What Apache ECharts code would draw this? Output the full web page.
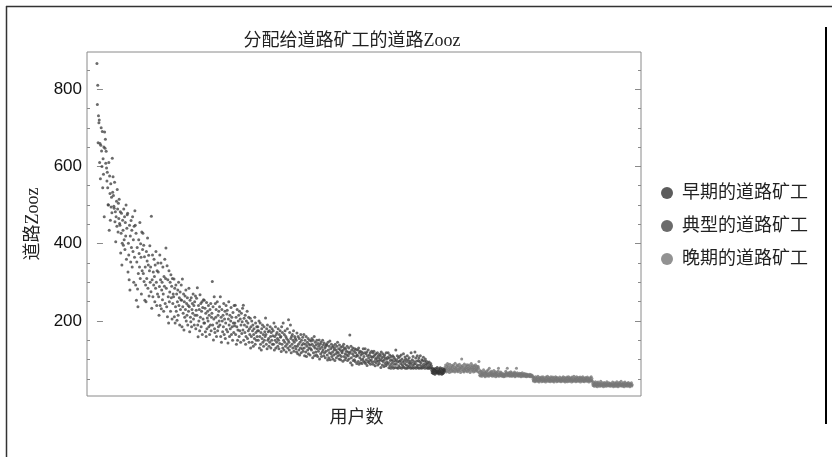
<!DOCTYPE html>
<html>
<head>
<meta charset="utf-8">
<script src="https://cdn.jsdelivr.net/npm/echarts@6/dist/echarts.min.js"></script>
<style>
html,body{margin:0;padding:0;background:#fff;}
#chart{width:832px;height:457px;}
</style>
</head>
<body>
<div id="chart"></div>
<script>
// Chart texts
const titleText = '分配给道路矿工的道路Zooz';
const xName = '用户数';
const yName = '道路Zooz';
const seriesNames = ['早期的道路矿工', '典型的道路矿工', '晚期的道路矿工'];

// Y tick values
const yLabelValues = [200, 400, 600, 800];
const yMinorValues = [50, 100, 150, 250, 300, 350, 450, 500, 550, 650, 700, 750, 850];

// Road Zooz per user, in user rank order (x = rank)
const typicalZooz = [
  866, 760, 810, 661, 731, 713, 720, 610, 659, 568, 655, 700, 640, 600, 690, 545, 620, 580, 650, 470,
  689, 647, 670, 608, 639, 596, 562, 585, 545, 501, 500, 610, 435, 575, 530, 461, 555, 495, 520, 480,
  621, 533, 573, 525, 497, 492, 559, 457, 483, 405, 470, 510, 445, 540, 490, 430, 505, 465, 515, 452,
  448, 483, 376, 427, 479, 345, 401, 461, 435, 396, 490, 410, 470, 385, 455, 420, 500, 360, 440, 475,
  479, 327, 401, 371, 307, 448, 280, 420, 353, 460, 390, 435, 340, 470, 380, 410, 300, 445, 365, 485,
  448, 293, 427, 254, 353, 390, 283, 237, 323, 410, 375, 340, 455, 310, 400, 365, 270, 430, 330, 385,
  427, 323, 396, 302, 366, 254, 340, 293, 250, 380, 310, 355, 415, 285, 345, 370, 265, 330, 395, 300,
  340, 276, 471, 233, 307, 371, 263, 327, 293, 360, 315, 250, 345, 285, 380, 300, 240, 330, 270, 350,
  327, 263, 215, 289, 371, 240, 307, 350, 232, 280, 300, 255, 340, 270, 225, 315, 290, 360, 245, 310,
  389, 285, 237, 343, 211, 307, 263, 195, 330, 250, 275, 300, 225, 320, 260, 290, 205, 310, 245, 270,
  263, 309, 211, 285, 195, 237, 293, 225, 270, 202, 250, 280, 215, 300, 240, 260, 190, 275, 230, 255,
  293, 254, 185, 309, 237, 220, 270, 177, 250, 210, 265, 230, 280, 200, 245, 215, 260, 190, 240, 225,
  285, 237, 172, 254, 210, 198, 260, 185, 230, 245, 220, 270, 205, 240, 190, 250, 215, 265, 180, 228,
  259, 215, 286, 190, 159, 240, 200, 230, 175, 268, 210, 245, 185, 225, 250, 165, 235, 205, 255, 195,
  254, 195, 233, 172, 220, 160, 248, 180, 208, 225, 200, 240, 185, 215, 165, 230, 190, 245, 175, 210,
  220, 302, 190, 237, 151, 205, 263, 180, 170, 245, 210, 230, 160, 195, 250, 175, 215, 185, 225, 200,
  237, 190, 263, 160, 210, 145, 230, 200, 172, 215, 185, 245, 165, 205, 225, 155, 195, 240, 178, 218,
  228, 172, 143, 205, 250, 190, 160, 215, 180, 200, 235, 165, 210, 185, 150, 222, 195, 170, 240, 188,
  195, 241, 165, 210, 140, 185, 230, 150, 177, 200, 215, 160, 225, 175, 205, 145, 190, 220, 168, 198,
  233, 177, 241, 150, 207, 190, 170, 215, 140, 160, 200, 185, 225, 155, 195, 175, 210, 145, 180, 165,
  207, 130, 185, 160, 200, 145, 175, 190, 135, 165, 180, 155, 210, 140, 195, 170, 150, 185, 160, 175,
  185, 150, 175, 200, 130, 160, 195, 140, 170, 125, 180, 155, 190, 145, 165, 135, 185, 150, 172, 160,
  208, 165, 140, 180, 128, 190, 150, 172, 155, 135, 175, 145, 185, 160, 130, 170, 150, 180, 140, 162,
  175, 140, 195, 125, 160, 150, 185, 130, 165, 145, 170, 155, 135, 180, 150, 128, 165, 142, 175, 158,
  160, 121, 185, 140, 170, 130, 195, 150, 125, 165, 145, 175, 135, 160, 120, 155, 140, 180, 130, 150,
  203, 145, 125, 170, 135, 190, 155, 118, 160, 140, 165, 130, 150, 175, 122, 145, 160, 135, 155, 128,
  150, 120, 169, 135, 115, 160, 140, 125, 155, 112, 145, 130, 165, 118, 150, 138, 128, 158, 122, 142,
  165, 130, 110, 150, 140, 120, 160, 108, 135, 145, 125, 155, 115, 140, 130, 150, 112, 138, 128, 148,
  125, 155, 140, 105, 150, 118, 135, 160, 110, 130, 145, 120, 138, 112, 150, 128, 108, 142, 122, 135,
  151, 102, 128, 140, 115, 145, 108, 132, 120, 150, 125, 138, 110, 143, 118, 130, 105, 135, 122, 140,
  138, 112, 99, 145, 125, 105, 135, 118, 148, 100, 128, 115, 140, 108, 132, 120, 102, 136, 112, 125,
  130, 98, 140, 115, 125, 105, 135, 120, 145, 110, 118, 128, 102, 138, 112, 125, 100, 132, 108, 122,
  118, 135, 96, 125, 140, 108, 130, 100, 115, 128, 105, 122, 112, 135, 98, 120, 110, 130, 102, 116,
  164, 120, 92, 135, 105, 125, 86, 115, 130, 98, 110, 122, 100, 128, 95, 118, 108, 126, 90, 112,
  110, 125, 95, 130, 88, 118, 105, 122, 92, 112, 100, 120, 90, 115, 102, 128, 96, 108, 118, 93,
  128, 90, 115, 100, 120, 85, 110, 95, 125, 104, 92, 112, 98, 118, 88, 108, 100, 122, 94, 106,
  118, 88, 108, 122, 95, 112, 84, 102, 115, 92, 105, 98, 118, 86, 110, 96, 104, 90, 114, 100,
  110, 80, 120, 98, 105, 86, 115, 95, 108, 82, 100, 112, 90, 104, 84, 118, 94, 102, 88, 106,
  118, 92, 79, 104, 112, 85, 98, 78, 108, 90, 100, 82, 110, 95, 78, 106, 88, 102, 80, 96,
  125, 88, 100, 79, 110, 94, 78, 105, 84, 96, 108, 80, 98, 90, 112, 78, 102, 86, 94, 82,
  115, 80, 98, 90, 107, 78, 102, 86, 95, 78, 110, 84, 100, 79, 92, 105, 82, 96, 88, 78,
  118, 92, 79, 100, 85, 108, 78, 95, 88, 80, 120, 90, 104, 78, 96, 82, 110, 86, 79, 98,
  104, 78, 95, 86, 110, 80, 92, 78, 100, 84, 98, 79, 106, 88, 82, 96, 78, 102, 85, 90,
  96, 79, 88, 78, 92, 82, 78, 94, 80, 86, 78, 90, 79, 84
];

const earlyZooz = [
  72, 66, 78, 70, 64, 75, 68, 73, 62, 77,
  70, 66, 74, 69, 80, 65, 71, 67, 76, 63,
  72, 69, 79, 65, 74, 68, 62, 77, 70, 64,
  73, 67, 75, 71
];

const lateZooz = [
  80, 72, 86, 75, 68, 82, 77, 90, 70, 84,
  74, 79, 67, 88, 73, 81, 76, 69, 85, 78,
  72, 83, 70, 87, 75, 80, 68, 91, 74, 78,
  82, 71, 86, 76, 69, 84, 73, 80, 88, 72,
  77, 67, 83, 79, 102, 74, 85, 70, 81, 76,
  68, 89, 73, 78, 84, 71, 80, 75, 87, 69,
  82, 77, 72, 86, 74, 79, 67, 83, 76, 90,
  71, 80, 85, 73, 78, 68, 84, 75, 81, 70,
  87, 74, 79, 72, 83, 76, 69, 82, 78, 95,
  66, 60, 72, 58, 64, 70, 62, 57, 68, 61,
  65, 74, 59, 63, 69, 56, 67, 60, 64, 71,
  58, 62, 66, 73, 60, 57, 78, 65, 61, 68,
  63, 59, 70, 64, 57, 66, 62, 60, 72, 58,
  65, 63, 69, 56, 61, 67, 60, 64, 58, 71,
  78, 62, 57, 66, 60, 63, 68, 59, 62, 57,
  65, 60, 58, 63, 56, 61, 59, 57, 64, 70,
  62, 66, 58, 78, 61, 65, 59, 63, 67, 57,
  60, 64, 69, 58, 62, 66, 57, 61, 63, 59,
  65, 60, 68, 56, 62, 64, 58, 78, 61, 66,
  59, 63, 57, 62, 60, 65, 58, 61, 64, 56,
  62, 59, 66, 57, 61, 63, 58, 60, 64, 57,
  61, 58, 63, 56, 60, 62, 57, 59, 61, 58,
  60, 57, 62, 56, 59, 61, 58, 57, 60, 56,
  50, 45, 55, 47, 52, 43, 49, 56, 46, 51,
  44, 53, 48, 57, 45, 50, 42, 54, 47, 52,
  46, 49, 55, 43, 51, 48, 56, 45, 50, 44,
  53, 47, 49, 42, 55, 46, 52, 48, 57, 44,
  50, 45, 54, 47, 51, 43, 49, 56, 46, 52,
  44, 48, 55, 45, 50, 42, 53, 47, 49, 56,
  46, 51, 43, 54, 48, 45, 52, 47, 50, 44,
  55, 46, 49, 43, 51, 47, 53, 45, 48, 56,
  44, 50, 46, 54, 42, 49, 52, 45, 47, 55,
  43, 51, 48, 56, 45, 50, 44, 53, 47, 49,
  52, 42, 55, 46, 48, 44, 51, 57, 45, 50,
  47, 53, 43, 49, 56, 46, 52, 44, 48, 54,
  45, 50, 47, 55, 42, 51, 46, 53, 49, 44,
  56, 48, 45, 52, 43, 50, 47, 54, 46, 51,
  44, 49, 55, 45, 52, 47, 42, 50, 46, 53,
  48, 44, 56, 47, 51, 45,
  38, 33, 41, 35, 31, 39, 36, 43, 32, 37,
  34, 40, 30, 36, 42, 33, 38, 35, 31, 39,
  37, 44, 32, 36, 34, 40, 33, 38, 30, 35,
  41, 36, 32, 39, 34, 37, 31, 43, 35, 38,
  33, 36, 40, 32, 37, 34, 39, 31, 36, 35,
  38, 33, 42, 35, 30, 37, 34, 40, 32, 36,
  39, 31, 35, 43, 33, 37, 30, 38, 34, 41,
  36, 32, 39, 35, 44, 33, 37, 31, 38, 34,
  40, 35, 30, 36, 42, 33, 38, 32, 37, 34,
  39, 31, 36, 41, 33, 35, 38, 30, 37, 34,
  36, 40, 32, 35
];

const typicalData = typicalZooz.map((v, i) => [i, v]);
const earlyStart = typicalZooz.length;
const earlyData = earlyZooz.map((v, i) => [earlyStart + i, v]);
const lateStart = earlyStart + earlyZooz.length;
const lateData = lateZooz.map((v, i) => [lateStart + i, v]);

const serifCJK = "'Liberation Serif', 'Noto Sans CJK SC', serif";
const tickColor = '#8a8a8a';

function yAxisDef(position, values, len, withLabel, extra) {
  return Object.assign({
    type: 'value', min: 6, max: 896, position: position,
    axisLine: { show: false }, splitLine: { show: false },
    axisTick: { show: true, inside: true, length: len, customValues: values, lineStyle: { color: tickColor, width: 1 } },
    axisLabel: withLabel
      ? { show: true, customValues: values, fontSize: 17, color: '#111', margin: 5, fontFamily: "'Liberation Sans', Arial, sans-serif" }
      : { show: false }
  }, extra || {});
}

const chart = echarts.init(document.getElementById('chart'), null, { renderer: 'canvas' });
chart.setOption({
  animation: false,
  backgroundColor: '#ffffff',
  title: {
    text: titleText, left: 347, top: 27, textAlign: 'center',
    textStyle: { fontSize: 18, fontWeight: 'normal', color: '#222', fontFamily: serifCJK }
  },
  grid: { left: 87, top: 52, width: 554, height: 344, show: true, borderColor: '#8a8a8a', borderWidth: 1, backgroundColor: 'transparent' },
  legend: {
    orient: 'vertical', left: 661, top: 183, padding: 0, itemGap: 13, icon: 'circle', itemWidth: 12, itemHeight: 12,
    data: seriesNames,
    textStyle: { fontSize: 18, color: '#222', fontFamily: serifCJK, padding: [0, 0, 0, 4], lineHeight: 20 }
  },
  xAxis: {
    type: 'value', min: -26, max: 1420,
    axisLine: { show: false }, axisTick: { show: false }, axisLabel: { show: false }, splitLine: { show: false },
    name: xName, nameLocation: 'middle', nameGap: 13,
    nameTextStyle: { fontSize: 18, color: '#222', fontFamily: serifCJK, padding: [0, 15, 0, 0] }
  },
  yAxis: [
    yAxisDef('left', yLabelValues, 6, true, {
      name: yName, nameLocation: 'middle', nameGap: 36,
      nameTextStyle: { fontSize: 18, color: '#222', fontFamily: serifCJK, padding: [0, 0, 7, 0] }
    }),
    yAxisDef('left', yMinorValues, 3, false),
    yAxisDef('right', yLabelValues, 6, false),
    yAxisDef('right', yMinorValues, 3, false)
  ],
  series: [
    { name: seriesNames[0], type: 'scatter', data: earlyData, symbolSize: 3, itemStyle: { color: '#333333' }, z: 3, emphasis: { disabled: true } },
    { name: seriesNames[1], type: 'scatter', data: typicalData, symbolSize: 3, itemStyle: { color: '#464646' }, z: 2, emphasis: { disabled: true } },
    { name: seriesNames[2], type: 'scatter', data: lateData, symbolSize: 3, itemStyle: { color: '#777777' }, z: 2, emphasis: { disabled: true } }
  ],
  graphic: [
    { type: 'line', shape: { x1: 6.5, y1: 6, x2: 6.5, y2: 457 }, style: { stroke: '#333', lineWidth: 1.5 }, silent: true },
    { type: 'line', shape: { x1: 6, y1: 6.5, x2: 832, y2: 6.5 }, style: { stroke: '#333', lineWidth: 1.5 }, silent: true },
    { type: 'line', shape: { x1: 826, y1: 27, x2: 826, y2: 424 }, style: { stroke: '#000', lineWidth: 2 }, silent: true }
  ]
});
</script>
</body>
</html>
